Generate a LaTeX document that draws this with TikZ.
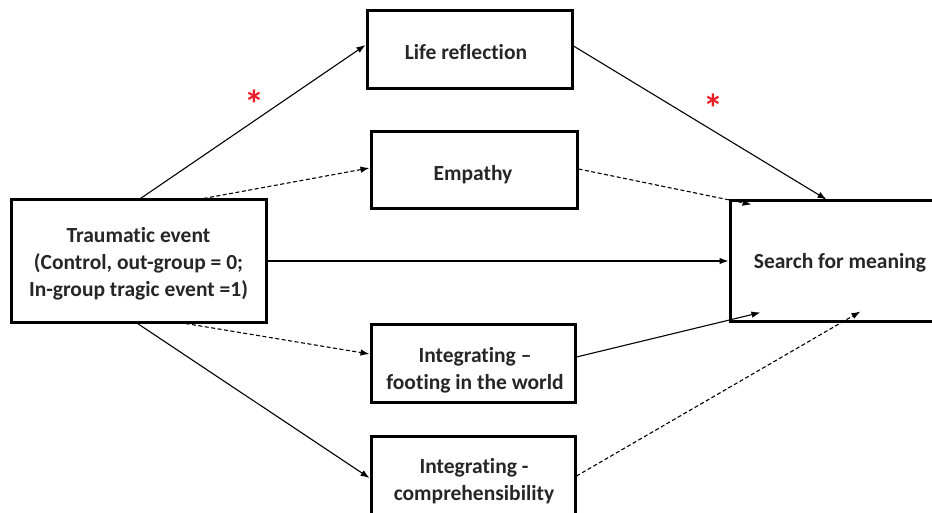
\documentclass[tikz,border=0pt]{standalone}
\usepackage{fontspec}
\setmainfont{Carlito}[Ligatures=CommonOff]
\usetikzlibrary{arrows.meta}
\definecolor{starred}{RGB}{235,30,40}
\begin{document}
\begin{tikzpicture}[x=1pt,y=-1pt,
  box/.style={draw=black,line width=3pt,rectangle,inner sep=0pt},
  lbl/.style={font=\fontsize{21.5}{27}\selectfont\bfseries,align=center,inner sep=0pt,text=black!85},
  conn/.style={line width=1.1pt,-{Latex[length=9pt,width=6.5pt]}},
  dashconn/.style={conn,dash pattern=on 4pt off 2.5pt},
  star/.style={font=\fontsize{40}{40}\selectfont\bfseries,text=starred,inner sep=0pt}]
\useasboundingbox (0,0) rectangle (932,513);
% boxes
\node[box,minimum width=255pt,minimum height=122pt] (trauma) at (138.5,261) {};
\node[box,minimum width=205pt,minimum height=78pt] (life) at (469.5,50) {};
\node[box,minimum width=206pt,minimum height=77pt] (emp) at (474,170.5) {};
\node[box,minimum width=220pt,minimum height=120pt] (search) at (840,261) {};
\node[box,minimum width=204pt,minimum height=78pt] (foot) at (473,363) {};
\node[box,minimum width=204pt,minimum height=79pt] (comp) at (473,475.5) {};
% labels
\node[lbl] (traumaT) at (138.5,264) {Traumatic event\\(Control, out-group = 0;\\In-group tragic event =1)};
\node[lbl] (lifeT) at (466,52) {Life reflection};
\node[lbl] (empT) at (473,175) {Empathy};
\node[lbl] (searchT) at (840,263) {Search for meaning};
\node[lbl] (footT) at (475,370) {Integrating –\\footing in the world};
\node[lbl] (compT) at (474,481) {Integrating -\\comprehensibility};
% stars
\node[star] (s1) at (254,104) {*};
\node[star] (s2) at (713,108) {*};
% connectors
\draw[conn] ([xshift=131pt]trauma.north west) -- ([yshift=5pt]life.west);
\draw[dashconn] ([xshift=194pt]trauma.north west) -- ([yshift=2.5pt]emp.west);
\draw[conn] (trauma.east) -- (search.west);
\draw[dashconn] ([xshift=176pt]trauma.south west) -- ([yshift=9pt]foot.west);
\draw[conn] ([xshift=128pt]trauma.south west) -- ([yshift=-2.5pt]comp.west);
\draw[conn] ([yshift=4pt]life.east) -- ([xshift=98pt]search.north west);
\draw[dashconn] ([yshift=1.5pt]emp.east) -- ([xshift=23pt,yshift=-5pt]search.north west);
\draw[conn] ([yshift=6pt]foot.east) -- ([xshift=32pt,yshift=10pt]search.south west);
\draw[dashconn] ([yshift=-0.5pt]comp.east) -- ([xshift=132pt,yshift=11pt]search.south west);
\end{tikzpicture}
\end{document}
